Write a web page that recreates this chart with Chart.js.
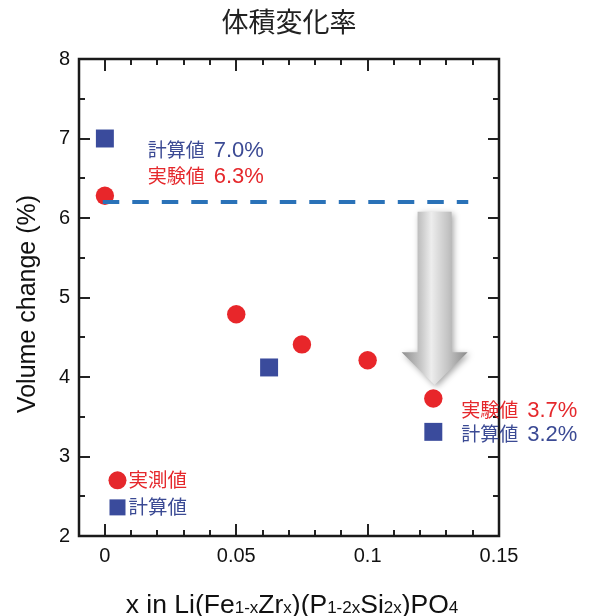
<!DOCTYPE html>
<html>
<head>
<meta charset="utf-8">
<script src="https://cdn.jsdelivr.net/npm/chart.js@4.4.0/dist/chart.umd.min.js"></script>
<style>
  html, body { margin: 0; padding: 0; background: #fff; overflow: hidden; }
  #grafico { display: block; }
</style>
</head>
<body>
<canvas id="grafico" width="598" height="616"></canvas>
<script>
// dados
const xTicks = [0, 0.05, 0.1, 0.15];
const yTicks = [2, 3, 4, 5, 6, 7, 8];
const medidoX = [0, 0.05, 0.075, 0.1, 0.125];
const medidoY = [6.28, 4.79, 4.41, 4.21, 3.73];
const calculadoX = [0, 0.0625, 0.125];
const calculadoY = [7.0, 4.12, 3.31];
const linhaX = [-0.0008, 0.1383];
const linhaY = [6.2, 6.2];
// seta: x, topo, inicio da ponta, ponta
const setaX = [0.1255];
const setaY = [6.08, 4.31, 3.9];

const titulo = '体積変化率';
const tituloY = 'Volume change (%)';
const legendas = ['実測値', '計算値'];
const notas = [
  { jp: '計算値', num: '7.0%', cor: '#3b4a94', x: 0.0163, y: 6.77 },
  { jp: '実験値', num: '6.3%', cor: '#e5282c', x: 0.0163, y: 6.44 },
  { jp: '実験値', num: '3.7%', cor: '#e5282c', x: 0.1356, y: 3.50 },
  { jp: '計算値', num: '3.2%', cor: '#3b4a94', x: 0.1356, y: 3.19 }
];

const fonte = '"Liberation Sans", Arial, sans-serif';
const fonteJP = '"Noto Sans CJK JP", "Noto Sans", sans-serif';

const ptsMedido = medidoX.map((x, i) => ({ x: x, y: medidoY[i] }));
const ptsCalc = calculadoX.map((x, i) => ({ x: x, y: calculadoY[i] }));
const ptsLinha = linhaX.map((x, i) => ({ x: x, y: linhaY[i] }));

const pluginDesenho = {
  id: 'desenho',
  beforeDatasetsDraw(chart) {
    const ctx = chart.ctx;
    const sx = chart.scales.x, sy = chart.scales.y;
    const a = chart.chartArea;
    ctx.save();
    // ticks para dentro
    ctx.strokeStyle = '#222';
    ctx.lineWidth = 2;
    for (let v = 2; v <= 8.001; v += 0.5) {
      const py = Math.round(sy.getPixelForValue(v));
      const len = (Math.abs(v - Math.round(v)) < 0.01) ? 11 : 6;
      ctx.beginPath();
      ctx.moveTo(a.left, py); ctx.lineTo(a.left + len, py);
      ctx.moveTo(a.right, py); ctx.lineTo(a.right - len, py);
      ctx.stroke();
    }
    for (let k = 0; k <= 15; k++) {
      const v = k * 0.01;
      const px = Math.round(sx.getPixelForValue(v));
      const len = (k % 5 === 0) ? 12 : 6;
      ctx.beginPath();
      ctx.moveTo(px, a.bottom); ctx.lineTo(px, a.bottom - len);
      ctx.moveTo(px, a.top); ctx.lineTo(px, a.top + len);
      ctx.stroke();
    }
    // moldura
    ctx.lineWidth = 2.5;
    ctx.strokeStyle = '#1a1a1a';
    ctx.strokeRect(a.left, a.top, a.right - a.left, a.bottom - a.top);
    ctx.restore();
  },
  afterDatasetsDraw(chart) {
    const ctx = chart.ctx;
    const sx = chart.scales.x, sy = chart.scales.y;
    ctx.save();
    // seta cinza
    const cx = sx.getPixelForValue(setaX[0]);
    const yTopo = sy.getPixelForValue(setaY[0]);
    const yCab = sy.getPixelForValue(setaY[1]);
    const yPonta = sy.getPixelForValue(setaY[2]);
    const meia = 17, meiaCab = 33;
    const grad = ctx.createLinearGradient(cx - meiaCab, 0, cx + meiaCab, 0);
    grad.addColorStop(0, '#8e8e8e');
    grad.addColorStop(0.3, '#c9c9c9');
    grad.addColorStop(0.45, '#ededed');
    grad.addColorStop(0.7, '#c4c4c4');
    grad.addColorStop(1, '#8a8a8a');
    ctx.shadowColor = 'rgba(0,0,0,0.35)';
    ctx.shadowBlur = 6;
    ctx.shadowOffsetX = 2;
    ctx.shadowOffsetY = 2;
    ctx.fillStyle = grad;
    ctx.beginPath();
    ctx.moveTo(cx - meia, yTopo);
    ctx.lineTo(cx + meia, yTopo);
    ctx.lineTo(cx + meia, yCab);
    ctx.lineTo(cx + meiaCab, yCab);
    ctx.lineTo(cx, yPonta);
    ctx.lineTo(cx - meiaCab, yCab);
    ctx.lineTo(cx - meia, yCab);
    ctx.closePath();
    ctx.fill();
    ctx.shadowColor = 'transparent';
    // anotacoes
    ctx.textBaseline = 'alphabetic';
    ctx.textAlign = 'left';
    notas.forEach(n => {
      const nx = sx.getPixelForValue(n.x), ny = sy.getPixelForValue(n.y);
      ctx.fillStyle = n.cor;
      ctx.font = '19px ' + fonteJP;
      ctx.fillText(n.jp, nx, ny);
      ctx.font = '22px ' + fonte;
      ctx.fillText(n.num, nx + 66, ny);
    });
    // legenda interna
    ctx.font = '19.5px ' + fonteJP;
    const lx = sx.getPixelForValue(0.0048);
    const ly1 = sy.getPixelForValue(2.7), ly2 = sy.getPixelForValue(2.36);
    ctx.fillStyle = '#e5282c';
    ctx.beginPath(); ctx.arc(lx, ly1, 9, 0, Math.PI * 2); ctx.fill();
    ctx.fillText(legendas[0], lx + 11, ly1 + 7);
    ctx.fillStyle = '#3a4b9c';
    ctx.fillRect(lx - 8, ly2 - 8, 16, 16);
    ctx.fillStyle = '#3b4a94';
    ctx.fillText(legendas[1], lx + 11, ly2 + 7);
    ctx.restore();
  },
  afterDraw(chart) {
    const ctx = chart.ctx;
    const a = chart.chartArea;
    ctx.save();
    // titulo
    ctx.fillStyle = '#222';
    ctx.font = '27px ' + fonteJP;
    ctx.textAlign = 'center';
    ctx.textBaseline = 'middle';
    ctx.fillText(titulo, (a.left + a.right) / 2, 22);
    // titulo eixo y
    ctx.fillStyle = '#111';
    ctx.font = '25px ' + fonte;
    ctx.textBaseline = 'alphabetic';
    ctx.translate(35, 304);
    ctx.rotate(-Math.PI / 2);
    ctx.fillText(tituloY, 0, 0);
    ctx.setTransform(1, 0, 0, 1, 0, 0);
    // titulo eixo x com subscritos
    const partes = [
      ['x in Li(Fe', 0], ['1-x', 1], ['Zr', 0], ['x', 1], [')(P', 0],
      ['1-2x', 1], ['Si', 0], ['2x', 1], [')PO', 0], ['4', 1]
    ];
    const fN = '26.5px ' + fonte, fS = '17px ' + fonte;
    let total = 0;
    partes.forEach(p => { ctx.font = p[1] ? fS : fN; total += ctx.measureText(p[0]).width; });
    let px = 292 - total / 2;
    const base = 613;
    ctx.textAlign = 'left';
    partes.forEach(p => {
      ctx.font = p[1] ? fS : fN;
      ctx.fillText(p[0], px, base);
      px += ctx.measureText(p[0]).width;
    });
    ctx.restore();
  }
};

const ctxGrafico = document.getElementById('grafico').getContext('2d');
const grafico = new Chart(ctxGrafico, {
  type: 'scatter',
  data: {
    datasets: [
      {
        label: 'linha',
        type: 'line',
        data: ptsLinha,
        borderColor: '#2a72b8',
        borderWidth: 4,
        borderDash: [16.5, 13],
        pointRadius: 0,
        fill: false
      },
      {
        label: legendas[1],
        data: ptsCalc,
        pointStyle: 'rect',
        pointRadius: 12.7,
        backgroundColor: '#3a4b9c',
        borderWidth: 0
      },
      {
        label: legendas[0],
        data: ptsMedido,
        pointStyle: 'circle',
        pointRadius: 9.2,
        backgroundColor: '#e8262a',
        borderWidth: 0
      }
    ]
  },
  options: {
    responsive: false,
    animation: false,
    devicePixelRatio: 1,
    layout: { padding: { top: 59, right: 99, left: 0, bottom: 0 } },
    plugins: {
      legend: { display: false },
      tooltip: { enabled: false },
      title: { display: false }
    },
    scales: {
      x: {
        type: 'linear',
        min: -0.00985,
        max: 0.15,
        afterBuildTicks: (s) => { s.ticks = xTicks.map(v => ({ value: v })); },
        afterFit: (s) => { s.height = 80; },
        grid: { display: false, drawTicks: false },
        border: { display: false },
        ticks: {
          padding: 8,
          maxRotation: 0,
          color: '#111',
          font: { family: fonte, size: 20 },
          callback: (v) => String(v)
        }
      },
      y: {
        min: 2,
        max: 8,
        afterBuildTicks: (s) => { s.ticks = yTicks.map(v => ({ value: v })); },
        afterFit: (s) => { s.width = 79; },
        grid: { display: false, drawTicks: false },
        border: { display: false },
        ticks: {
          padding: 9,
          color: '#111',
          font: { family: fonte, size: 20 }
        }
      }
    }
  },
  plugins: [pluginDesenho]
});
</script>
</body>
</html>
